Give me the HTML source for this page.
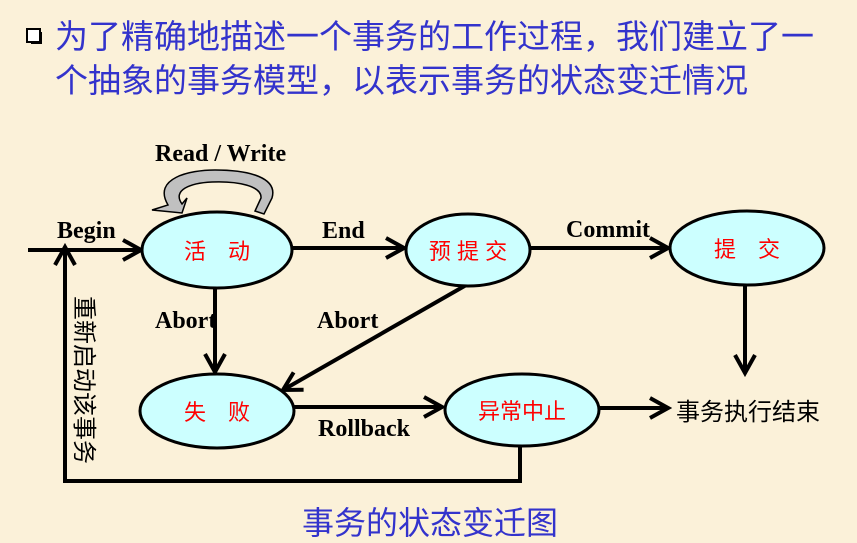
<!DOCTYPE html>
<html><head><meta charset="utf-8"><style>
html,body{margin:0;padding:0;background:#fbf1d9;}
svg{display:block}
</style></head><body>
<svg width="857" height="543" viewBox="0 0 857 543" xmlns="http://www.w3.org/2000/svg">
<defs>
<marker id="b" markerWidth="24" markerHeight="24" refX="20" refY="12" orient="auto" markerUnits="userSpaceOnUse" viewBox="0 0 24 24">
<path d="M2,2 L20,12 L2,22" fill="none" stroke="#000" stroke-width="4"/>
</marker>
</defs>
<rect width="857" height="543" fill="#fbf1d9"/>
<rect x="27" y="29" width="13" height="13" fill="#fff" stroke="#000" stroke-width="2"/>
<rect x="31" y="42" width="11" height="2" fill="#000"/><rect x="40" y="32" width="2" height="12" fill="#000"/>
<g font-family="Liberation Sans,'Noto Sans CJK SC',sans-serif" font-size="33" fill="#3333cc">
<text x="55" y="48">为了精确地描述一个事务的工作过程，我们建立了一</text>
<text x="55" y="92">个抽象的事务模型，以表示事务的状态变迁情况</text>
<text x="430" y="534" text-anchor="middle" font-size="32">事务的状态变迁图</text>
</g>
<g stroke="#000" stroke-width="4" fill="none" marker-end="url(#b)">
<line x1="28" y1="250" x2="141" y2="250"/>
<line x1="293" y1="248" x2="404" y2="248"/>
<line x1="530" y1="248" x2="668" y2="248"/>
<line x1="215" y1="288" x2="215" y2="372"/>
<line x1="468" y1="284" x2="283" y2="390"/>
<line x1="293" y1="407" x2="442" y2="407"/>
<line x1="745" y1="285" x2="745" y2="373"/>
<line x1="596" y1="408" x2="668" y2="408"/>
<polyline points="520,447 520,481 65,481 65,247"/>
</g>
<path d="M168,205 C152,178 190,170 215,170 C250,170 278,178 272,198 L264,214 L255,211 L261,198 C262,186 238,181 212,182 C190,183 172,190 182,204 L187,198 L182,213 L152,210 Z" fill="#c0c0c0" stroke="#000" stroke-width="1.5"/>
<g stroke="#000" stroke-width="3">
<ellipse cx="217" cy="250" rx="75" ry="38" fill="#ccffff"/>
<ellipse cx="468" cy="250" rx="62" ry="36" fill="#ccffff"/>
<ellipse cx="747" cy="248" rx="77" ry="37" fill="#ccffff"/>
<ellipse cx="217" cy="411" rx="77" ry="37" fill="#ccffff"/>
<ellipse cx="522" cy="410" rx="77" ry="36" fill="#ccffff"/>
</g>
<g font-family="Liberation Sans,'Noto Sans CJK SC',sans-serif" font-size="22" fill="#ff0000" text-anchor="middle">
<text x="217" y="259">活　动</text>
<text x="468" y="259">预 提 交</text>
<text x="747" y="257">提　交</text>
<text x="217" y="420">失　败</text>
<text x="522" y="419">异常中止</text>
</g>
<g font-family="Liberation Serif,serif" font-weight="bold" font-size="24" fill="#000">
<text x="155" y="161">Read / Write</text>
<text x="57" y="238">Begin</text>
<text x="322" y="238">End</text>
<text x="566" y="237">Commit</text>
<text x="155" y="328">Abort</text>
<text x="317" y="328">Abort</text>
<text x="318" y="436">Rollback</text>
</g>
<text x="676" y="420" font-family="Liberation Sans,'Noto Sans CJK SC',sans-serif" font-size="24" fill="#000">事务执行结束</text>
<text x="76" y="296" font-family="Liberation Sans,'Noto Sans CJK SC',sans-serif" font-size="24" fill="#000" style="writing-mode:vertical-rl;text-orientation:sideways">重新启动该事务</text>
</svg>
</body></html>
